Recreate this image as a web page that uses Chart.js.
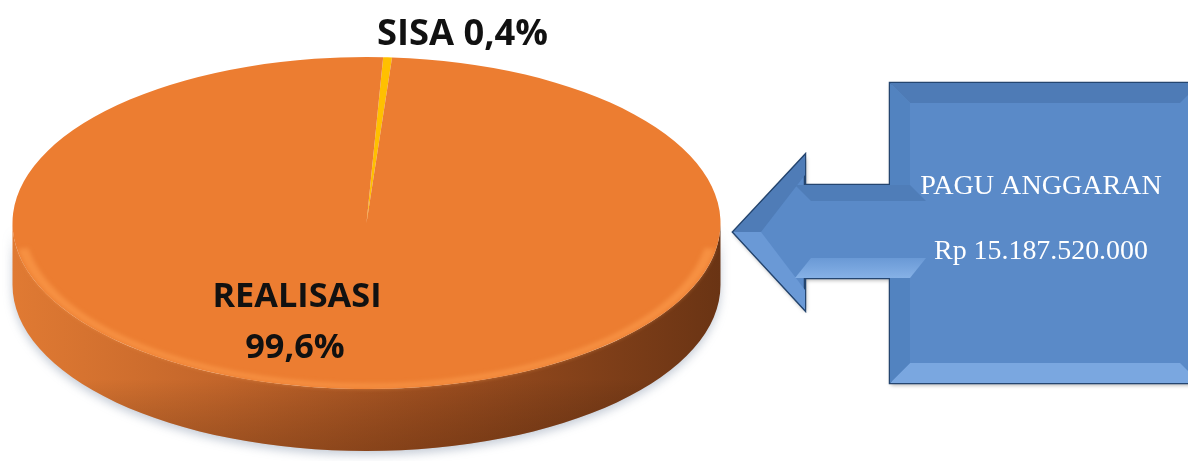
<!DOCTYPE html>
<html>
<head>
<meta charset="utf-8">
<script src="https://cdn.jsdelivr.net/npm/chart.js@4.4.1/dist/chart.umd.min.js"></script>
<style>
  html, body { margin: 0; padding: 0; background: #ffffff; }
  #wrap { width: 1188px; height: 461px; }
</style>
</head>
<body>
<div id="wrap"><canvas id="myChart" width="1188" height="461"></canvas></div>
<script>
'use strict';

// data
let labels = ['SISA', 'REALISASI'];
let values = [0.4, 99.6];
let sliceColors = ['#FFC000', '#EC7D31'];

let boxTitle = 'PAGU ANGGARAN';
let boxAmount = 'Rp 15.187.520.000';

// pie look (flattened 3d disc)
let pieRX = 354;     // horizontal radius of the top face
let depth = 62;      // height of the side wall

function pct(v) {
    return v.toString().replace('.', ',') + '%';
}

function fitFont(ctx, text, weight, family, width) {
    ctx.font = weight + ' 40px ' + family;
    let size = 40 * width / ctx.measureText(text).width;
    ctx.font = weight + ' ' + size.toFixed(1) + 'px ' + family;
}

function drawArrow(ctx) {
    let tipX = 733, tipY = 232;
    let headX = 805, headTop = 155, headBot = 310;
    let shaftTop = 185, shaftBot = 278;
    let boxL = 890, boxT = 83, boxR = 1200, boxB = 383;
    let b = 20;

    ctx.save();
    ctx.beginPath();
    ctx.moveTo(tipX, tipY);
    ctx.lineTo(headX, headTop);
    ctx.lineTo(headX, shaftTop);
    ctx.lineTo(boxL, shaftTop);
    ctx.lineTo(boxL, boxT);
    ctx.lineTo(boxR, boxT);
    ctx.lineTo(boxR, boxB);
    ctx.lineTo(boxL, boxB);
    ctx.lineTo(boxL, shaftBot);
    ctx.lineTo(headX, shaftBot);
    ctx.lineTo(headX, headBot);
    ctx.closePath();
    ctx.shadowColor = 'rgba(0,0,0,0.35)';
    ctx.shadowBlur = 4;
    ctx.shadowOffsetX = 1;
    ctx.shadowOffsetY = 2;
    ctx.fillStyle = '#5A8AC8';
    ctx.fill();
    ctx.shadowColor = 'transparent';
    ctx.lineWidth = 2.5;
    ctx.strokeStyle = '#24456F';
    ctx.stroke();
    ctx.clip();

    function poly(pts, color) {
        ctx.beginPath();
        ctx.moveTo(pts[0][0], pts[0][1]);
        for (let i = 1; i < pts.length; i++) ctx.lineTo(pts[i][0], pts[i][1]);
        ctx.closePath();
        ctx.fillStyle = color;
        ctx.fill();
    }

    // box bevels
    poly([[boxL, boxT], [boxR, boxT], [boxR - b, boxT + b], [boxL + b, boxT + b]], '#4E7BB6');
    poly([[boxL, boxB], [boxR, boxB], [boxR - b, boxB - b], [boxL + b, boxB - b]], '#7AA7E0');
    poly([[boxL, boxT], [boxL + b, boxT + b], [boxL + b, shaftTop], [boxL, shaftTop]], '#5283C0');
    poly([[boxL, boxB], [boxL + b, boxB - b], [boxL + b, shaftBot], [boxL, shaftBot]], '#5283C0');

    // head bevels
    poly([[tipX, tipY], [headX, headTop], [headX, headTop + 20], [tipX + 28, tipY]], '#4F7CB7');
    poly([[tipX, tipY], [headX, headBot], [headX, headBot - 20], [tipX + 28, tipY]], '#6A99D6');

    // shaft bevels
    poly([[headX - 10, shaftTop], [boxL + b, shaftTop], [boxL + b + 16, shaftTop + 16], [headX + 6, shaftTop + 16]], '#4F7DB8');
    let g = ctx.createLinearGradient(0, shaftBot - 22, 0, shaftBot);
    g.addColorStop(0, '#6797D4');
    g.addColorStop(1, '#86B1E6');
    poly([[headX - 10, shaftBot], [boxL + b, shaftBot], [boxL + b + 16, shaftBot - 20], [headX + 6, shaftBot - 20]], g);
    ctx.restore();

    ctx.save();
    ctx.fillStyle = '#ffffff';
    ctx.textAlign = 'center';
    ctx.textBaseline = 'alphabetic';
    fitFont(ctx, boxTitle, 'normal', '"Liberation Serif", "Times New Roman", serif', 242);
    ctx.fillText(boxTitle, 1041, 194);
    fitFont(ctx, boxAmount, 'normal', '"Liberation Serif", "Times New Roman", serif', 214);
    ctx.fillText(boxAmount, 1041, 259);
    ctx.restore();
}

let disc3d = {
    id: 'disc3d',
    beforeDatasetsDraw(chart) {
        let ctx = chart.ctx;
        let arc = chart.getDatasetMeta(0).data[0];
        let cx = arc.x, cy = arc.y, r = arc.outerRadius;
        ctx.save();
        ctx.translate(cx, cy);
        ctx.scale(pieRX / r, 1);
        ctx.translate(-cx, -cy);

        // side wall
        ctx.save();
        ctx.beginPath();
        ctx.moveTo(cx + r, cy);
        ctx.arc(cx, cy, r, 0, Math.PI);
        ctx.lineTo(cx - r, cy + depth);
        ctx.arc(cx, cy + depth, r, Math.PI, 0, true);
        ctx.closePath();
        let g = ctx.createLinearGradient(cx - r, 0, cx + r, 0);
        g.addColorStop(0, '#E07A33');
        g.addColorStop(0.3, '#C2652A');
        g.addColorStop(0.6, '#9D4E1F');
        g.addColorStop(1, '#6A3414');
        ctx.fillStyle = g;
        ctx.shadowColor = 'rgba(90,110,140,0.35)';
        ctx.shadowBlur = 10;
        ctx.shadowOffsetY = 4;
        ctx.fill();
        ctx.shadowColor = 'transparent';
        // darken toward the bottom of the wall
        let v = ctx.createLinearGradient(0, cy + r - 10, 0, cy + r + depth);
        v.addColorStop(0, 'rgba(0,0,0,0)');
        v.addColorStop(1, 'rgba(40,15,0,0.25)');
        ctx.fillStyle = v;
        ctx.fill();
        ctx.restore();
    },
    afterDatasetsDraw(chart) {
        let ctx = chart.ctx;
        let arc = chart.getDatasetMeta(0).data[0];
        let cx = arc.x, cy = arc.y, r = arc.outerRadius;

        // soft highlight on the rim of the top face
        ctx.save();
        ctx.beginPath();
        ctx.arc(cx, cy, r - 3, Math.PI * 0.05, Math.PI * 0.95);
        ctx.lineWidth = 5;
        ctx.strokeStyle = 'rgba(255,160,80,0.55)';
        ctx.filter = 'blur(2px)';
        ctx.stroke();
        ctx.restore();

        ctx.restore();

        // labels
        ctx.save();
        ctx.fillStyle = '#111111';
        ctx.textBaseline = 'alphabetic';
        let fam = '"Open Sans", "Liberation Sans", sans-serif';
        ctx.textAlign = 'left';
        let sisaText = labels[0] + ' ' + pct(values[0]);
        fitFont(ctx, sisaText, 'bold', fam, 171);
        ctx.fillText(sisaText, 377, 45);
        ctx.textAlign = 'center';
        fitFont(ctx, labels[1], 'bold', fam, 169);
        ctx.fillText(labels[1], 297, 307);
        let sz = parseFloat(ctx.font.match(/([\d.]+)px/)[1]);
        ctx.font = 'bold ' + sz + 'px ' + fam;
        ctx.fillText(pct(values[1]), 295, 358);
        ctx.restore();

        drawArrow(ctx);
    }
};

let ctx = document.getElementById('myChart').getContext('2d');
let myChart = new Chart(ctx, {
    type: 'pie',
    data: {
        labels: labels,
        datasets: [{
            data: values,
            backgroundColor: sliceColors,
            borderWidth: 0,
            hoverOffset: 0,
            offset: 0
        }]
    },
    options: {
        responsive: false,
        animation: false,
        rotation: 2.7,
        events: [],
        layout: {
            padding: { left: 200.5, right: 655.5, top: 57, bottom: 72 }
        },
        plugins: {
            legend: { display: false },
            tooltip: { enabled: false }
        }
    },
    plugins: [disc3d]
});
</script>
</body>
</html>
